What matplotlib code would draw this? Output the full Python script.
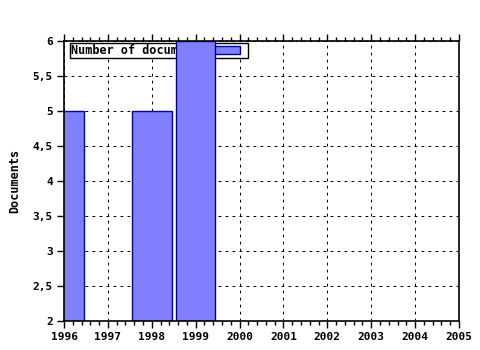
import matplotlib
matplotlib.use("Agg")
import matplotlib.pyplot as plt
from matplotlib.ticker import MultipleLocator
from matplotlib.legend_handler import HandlerPatch
from matplotlib.patches import Rectangle
from matplotlib.container import BarContainer

years = [1996, 1998, 1999]
docs = [5, 5, 6]
series_label = "Number of documents"
xticks = list(range(1996, 2006))
yticks = [2, 2.5, 3, 3.5, 4, 4.5, 5, 5.5, 6]
ytick_labels = ['2', '2,5', '3', '3,5', '4', '4,5', '5', '5,5', '6']

plt.rcParams['font.family'] = ['DejaVu Sans Mono']
plt.rcParams['font.weight'] = 'bold'
plt.rcParams['font.size'] = 8

fig = plt.figure(figsize=(4.8, 3.5), dpi=100)
ax = fig.add_axes([64/480, 1-321/350, (459-64)/480, (321-41)/350])

bars = ax.bar(years, docs, width=0.9, color='#8080ff', edgecolor='#0000a0',
              linewidth=1.0, label=series_label, zorder=3)

ax.set_xlim(1996, 2005)
ax.set_ylim(2, 6)
ax.set_xticks(xticks)
ax.set_xticklabels([str(x) for x in xticks], fontweight='bold')
ax.set_yticks(yticks)
ax.set_yticklabels(ytick_labels, fontweight='bold')
ax.xaxis.set_minor_locator(MultipleLocator(0.2))

ax.grid(True, which='major', color='black', linestyle=(0, (2.8, 4.2)), linewidth=0.72, zorder=1)
ax.set_axisbelow(True)

ax.tick_params(axis='x', which='both', direction='out', top=True, bottom=True,
               labeltop=False, color='black')
ax.tick_params(axis='x', which='major', length=5, width=1, pad=3)
ax.tick_params(axis='x', which='minor', length=3, width=1)
ax.tick_params(axis='y', which='major', direction='out', length=5, width=1, left=True, right=False, pad=3)
for s in ax.spines.values():
    s.set_linewidth(1.2)
    s.set_color('black')
    s.set_zorder(4)

ax.set_ylabel('Documents', labelpad=8, fontsize=8.5, fontweight='bold')


def make_patch(legend, orig_handle, xdescent, ydescent, width, height, fontsize):
    return Rectangle((-xdescent, -ydescent + height * 0.05), width * 0.8, height * 0.9)


def update_first(legend_handle, orig_handle):
    legend_handle.update_from(orig_handle.patches[0])


leg = ax.legend(loc='upper left', bbox_to_anchor=(6/395, 1-2/280), borderaxespad=0,
                markerfirst=False, fancybox=False, framealpha=1, edgecolor='black',
                handlelength=2.8, handleheight=0.75, borderpad=0.1, handletextpad=0.6,
                prop={'size': 8.5, 'weight': 'bold'},
                handler_map={BarContainer: HandlerPatch(patch_func=make_patch,
                                                        update_func=update_first)})
leg.get_frame().set_linewidth(1.0)
leg.set_zorder(2)

fig.savefig('out.png', dpi=100)
